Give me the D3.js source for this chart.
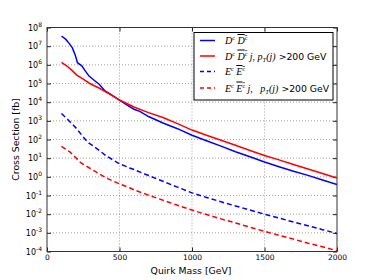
<!DOCTYPE html>
<html><head><meta charset="utf-8">
<script src="https://cdn.jsdelivr.net/npm/d3@7"></script>
<style>body{margin:0;background:#fff}svg{display:block}</style>
</head><body><svg id="c" width="374" height="280"></svg>
<script>
// Data
const massDD = [100,130,150,175,195,210,240,260,290,325,360,400,440,500,550,600,640,700,800,900,1000,1100,1200,1300,1400,1500,1600,1700,1800,1900,2000];
const xsDD = [3.5e7,2.3e7,1.5e7,8.1e6,3.3e6,1.3e6,8.9e5,5.2e5,2.5e5,1.5e5,9.1e4,4.0e4,2.6e4,1.3e4,7.1e3,4.2e3,3.2e3,1.7e3,760,380,170,85,44,22,12,6.2,3.5,2.0,1.2,0.68,0.39];
const massDDj = [100,135,170,205,250,295,365,435,500,600,700,800,900,1000,1100,1200,1300,1400,1500,1600,1700,1800,1900,2000];
const xsDDj = [1.35e6,8.9e5,5.2e5,2.8e5,1.7e5,1.0e5,5.4e4,2.6e4,1.3e4,5.5e3,2.75e3,1.5e3,710,320,170,91,49,26,14,8.1,4.6,2.6,1.5,0.85];
const massEE = [100,160,205,250,280,330,410,500,570,600,700,800,900,1000,1100,1200,1300,1400,1500,1600,1700,1800,1900,2000];
const xsEE = [2450,870,380,135,72,39,13,5.0,3.0,2.45,1.17,0.575,0.28,0.138,0.079,0.046,0.0275,0.0166,0.010,0.0062,0.0038,0.0024,0.00148,0.00093];
const massEEj = [100,160,230,320,410,500,570,600,700,800,900,1000,1100,1200,1300,1400,1500,1600,1700,1800,1900,2000];
const xsEEj = [43,21,6.0,2.2,0.85,0.42,0.26,0.2,0.105,0.056,0.030,0.0166,0.0095,0.0056,0.0034,0.002,0.0012,0.00074,0.00046,0.00028,0.000178,0.00011];
const xTicks = [0,500,1000,1500,2000];
const yExps = [8,7,6,5,4,3,2,1,0,-1,-2,-3,-4];

const svg = d3.select("#c");
const L=47, R=337, T=27.5, B=251.5;
const x = d3.scaleLinear().domain([0,2000]).range([L,R]);
const y = d3.scaleLog().domain([1e-4,1e8]).range([B,T]);
const g = svg.append("g");

// grid
g.selectAll(".gx").data(xTicks.slice(1,-1)).enter().append("line")
 .attr("x1",d=>x(d)).attr("x2",d=>x(d)).attr("y1",T).attr("y2",B)
 .attr("stroke","#888").attr("stroke-width",0.8).attr("stroke-dasharray","1,2");
g.selectAll(".gy").data(yExps.slice(1,-1)).enter().append("line")
 .attr("x1",L).attr("x2",R).attr("y1",d=>y(Math.pow(10,d))).attr("y2",d=>y(Math.pow(10,d)))
 .attr("stroke","#888").attr("stroke-width",0.8).attr("stroke-dasharray","1,2");

// axes
const xAxis = d3.axisBottom(x).tickValues(xTicks).tickSize(-4).tickPadding(3.5).tickFormat(d3.format("d"));
const xa = svg.append("g").attr("transform",`translate(0,${B})`).call(xAxis);
const xAxisTop = d3.axisTop(x).tickValues(xTicks).tickSize(-4).tickFormat("");
svg.append("g").attr("transform",`translate(0,${T})`).call(xAxisTop);
const yAxis = d3.axisLeft(y).tickValues(yExps.map(e=>Math.pow(10,e))).tickSize(-4).tickPadding(5).tickFormat("");
const ya = svg.append("g").attr("transform",`translate(${L},0)`).call(yAxis);
svg.append("g").attr("transform",`translate(${R},0)`).call(d3.axisRight(y).tickValues(yExps.map(e=>Math.pow(10,e))).tickSize(-4).tickFormat(""));
svg.selectAll(".domain").remove();
svg.selectAll(".tick line").attr("stroke","#222");
xa.selectAll("text").attr("font-family","DejaVu Sans").attr("font-size",7.5).attr("fill","#000");

// y tick labels with superscripts
yExps.forEach(e=>{
  const t = svg.append("text").attr("x",L-5).attr("y",y(Math.pow(10,e))+3)
    .attr("text-anchor","end").attr("font-family","DejaVu Sans").attr("font-size",8);
  t.append("tspan").text("10");
  t.append("tspan").attr("dy",-4).attr("font-size",6).text(String(e));
});

// frame
svg.append("rect").attr("x",L).attr("y",T).attr("width",R-L).attr("height",B-T)
 .attr("fill","none").attr("stroke","#333").attr("stroke-width",1);

// lines
const line = d3.line().x(d=>x(d[0])).y(d=>y(d[1]));
const series = [
  {m:massDD, v:xsDD, c:"#0000ff", dash:null},
  {m:massDDj, v:xsDDj, c:"#ff0000", dash:null},
  {m:massEE, v:xsEE, c:"#0000ff", dash:"5,3"},
  {m:massEEj, v:xsEEj, c:"#ff0000", dash:"5,3"}
];
const clip = svg.append("clipPath").attr("id","pc").append("rect").attr("x",L).attr("y",T).attr("width",R-L).attr("height",B-T);
series.forEach(s=>{
  svg.append("path").datum(s.m.map((m,i)=>[m,s.v[i]])).attr("d",line)
   .attr("fill","none").attr("stroke",s.c).attr("stroke-width",1.5)
   .attr("stroke-dasharray",s.dash).attr("clip-path","url(#pc)");
});

// legend
const lg = svg.append("g");
lg.append("rect").attr("x",194).attr("y",32.5).attr("width",139).attr("height",67.5)
  .attr("fill","#fff").attr("stroke","#000").attr("stroke-width",1);
const ly = [40.5,56,71.5,88];
series.forEach((s,i)=>{
  lg.append("line").attr("x1",200).attr("x2",215).attr("y1",ly[i]).attr("y2",ly[i])
   .attr("stroke",s.c).attr("stroke-width",1.5).attr("stroke-dasharray",s.dash?"4,3":null);
});
function legendText(i, letter, extra, gap){
  const t = lg.append("text").attr("x",225).attr("y",ly[i]+3.5).attr("font-size",10).attr("font-family","Liberation Serif");
  t.append("tspan").attr("font-style","italic").text(letter);
  t.append("tspan").attr("font-size",6).attr("dy",-4).text("c");
  t.append("tspan").attr("dy",4).text("\u00a0");
  t.append("tspan").attr("font-style","italic").attr("text-decoration","overline").text(letter);
  t.append("tspan").attr("font-size",6).attr("dy",-4).attr("text-decoration","overline").text("c");
  if(extra){
    t.append("tspan").attr("dy",4).attr("font-style","italic").text("\u00a0j,"+gap+"p");
    t.append("tspan").attr("font-style","italic").attr("font-size",6.5).attr("dy",2).text("T");
    t.append("tspan").attr("font-style","italic").attr("dy",-2).text("(j)");
    t.append("tspan").attr("font-family","DejaVu Sans").attr("font-size",9.3).text("\u00a0>200 GeV");
  }
}
legendText(0,"D",false,"");
legendText(1,"D",true,"\u00a0");
legendText(2,"E",false,"");
legendText(3,"E",true,"\u00a0\u00a0\u00a0");

// axis labels
svg.append("text").attr("x",191).attr("y",274).attr("text-anchor","middle")
 .attr("font-family","DejaVu Sans").attr("font-size",9.3).text("Quirk Mass [GeV]");
svg.append("text").attr("transform",`translate(19,${(T+B)/2}) rotate(-90)`).attr("text-anchor","middle")
 .attr("font-family","DejaVu Sans").attr("font-size",9.3).text("Cross Section [fb]");
</script></body></html>
